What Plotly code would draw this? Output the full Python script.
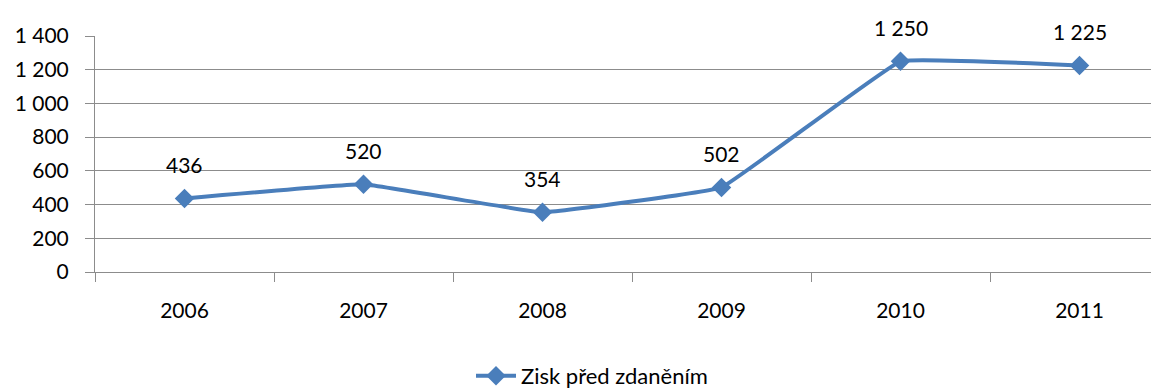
import plotly.graph_objects as go

years = ["2006", "2007", "2008", "2009", "2010", "2011"]
values = [436, 520, 354, 502, 1250, 1225]
series_name = "Zisk před zdaněním"
y_ticks = [0, 200, 400, 600, 800, 1000, 1200, 1400]

FONT = "Lato"
FS = 21
BLUE = "#4A7EBB"
GRID = "#8C8C8C"

fig = go.Figure()
fig.add_trace(go.Scatter(
    x=list(range(len(years))), y=values, name=series_name,
    mode="lines+markers",
    line=dict(color=BLUE, width=4, shape="spline", smoothing=0.2),
    marker=dict(symbol="diamond", size=15, color=BLUE),
))

for i, v in enumerate(values):
    fig.add_annotation(x=i, y=v, text=f"{v:,}".replace(",", " "),
                       showarrow=False, yshift=34,
                       font=dict(family=FONT, size=FS, color="#000000"))

# page has an 8px body margin
OFF = 8
W, H = 1159 - OFF, 390 - OFF
left, right, top = 95 - OFF, 0, 36 - OFF
plot_h = 236
bottom = H - top - plot_h
cat_w = 179
plot_w = W - left - right
x_max = -0.5 + plot_w / cat_w

fig.update_layout(
    width=W, height=H,
    margin=dict(l=left, r=right, t=top, b=bottom, pad=0, autoexpand=False),
    paper_bgcolor="white", plot_bgcolor="white",
    font=dict(family=FONT, size=FS, color="#000000"),
    separators=", ",
    showlegend=True,
    legend=dict(orientation="h", xref="paper", yref="paper",
                x=(592 - 95) / plot_w, y=-(376 - 272) / plot_h,
                xanchor="center", yanchor="middle",
                font=dict(family=FONT, size=22), itemwidth=40),
    xaxis=dict(range=[-0.5, x_max], tickmode="array", automargin=False,
               tickvals=list(range(len(years))), ticktext=years,
               showgrid=False, showline=True, linecolor=GRID, linewidth=1,
               ticks="", zeroline=False, ticklabelstandoff=20,
               minor=dict(tickmode="array",
                          tickvals=[i + 0.5 for i in range(-1, len(years))],
                          ticks="outside", ticklen=9, tickcolor=GRID, tickwidth=1)),
    yaxis=dict(range=[0, 1400], tickmode="array", tickvals=y_ticks, automargin=False,
               ticktext=[f"{t:,}".replace(",", " ") for t in y_ticks],
               showgrid=True, gridcolor=GRID, gridwidth=1,
               showline=True, linecolor=GRID, linewidth=1,
               ticks="outside", ticklen=9, tickcolor=GRID,
               zeroline=False, ticklabelstandoff=12),
)

fig.write_html("out.html")
